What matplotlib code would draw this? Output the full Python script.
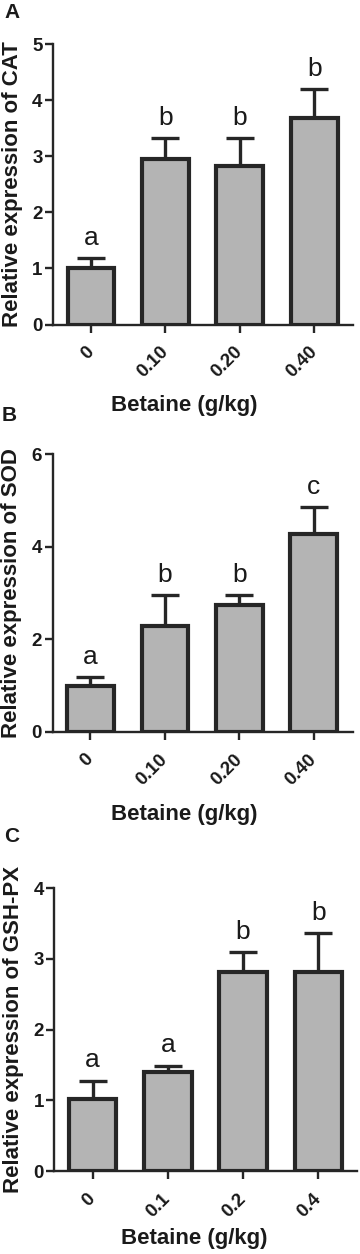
import numpy as np
import matplotlib
matplotlib.use("Agg")
import matplotlib.pyplot as plt

plt.rcParams['font.family'] = ['Liberation Sans', 'DejaVu Sans']

# ---- data ----
cats_ab = ["0", "0.10", "0.20", "0.40"]
cats_c = ["0", "0.1", "0.2", "0.4"]

cat_mean = [1.00, 2.95, 2.82, 3.68]
cat_err = [0.18, 0.38, 0.51, 0.52]
cat_letters = ["a", "b", "b", "b"]

sod_mean = [0.99, 2.28, 2.74, 4.28]
sod_err = [0.19, 0.67, 0.21, 0.57]
sod_letters = ["a", "b", "b", "c"]

gsh_mean = [1.02, 1.40, 2.82, 2.82]
gsh_err = [0.26, 0.09, 0.28, 0.55]
gsh_letters = ["a", "a", "b", "b"]

xlabel = "Betaine (g/kg)"

W, H = 360, 1254
fig = plt.figure(figsize=(W / 100, H / 100), dpi=100)

EDGE = "#262626"
FILL = "#b4b4b4"


def px_axes(left, right, top, bottom):
    return [left / W, 1 - bottom / H, (right - left) / W, (bottom - top) / H]


panels = [
    dict(rect=px_axes(53, 353, 44.3, 324.5), cats=cats_ab, mean=cat_mean, err=cat_err,
         letters=cat_letters, ylim=5, yticks=[0, 1, 2, 3, 4, 5],
         ylabel="Relative expression of CAT", xl=(0.437, -0.252), tag="A", tagpos=(12, 12)),
    dict(rect=px_axes(52.5, 352.7, 454.3, 731.7), cats=cats_ab, mean=sod_mean, err=sod_err,
         letters=sod_letters, ylim=6, yticks=[0, 2, 4, 6],
         ylabel="Relative expression of SOD", xl=(0.438, -0.262), tag="B", tagpos=(9.5, 415)),
    dict(rect=px_axes(54.3, 357.3, 888.3, 1171), cats=cats_c, mean=gsh_mean, err=gsh_err,
         letters=gsh_letters, ylim=4, yticks=[0, 1, 2, 3, 4],
         ylabel="Relative expression of GSH-PX", xl=(0.461, -0.203), tag="C", tagpos=(11.5, 836)),
]

for p in panels:
    ax = fig.add_axes(p["rect"])
    x = np.arange(len(p["cats"]))
    mean = np.array(p["mean"])
    err = np.array(p["err"])
    eb = ax.errorbar(x, mean, yerr=[np.zeros_like(err), err], fmt='none', ecolor=EDGE,
                     elinewidth=2.4, capsize=10, capthick=2.4, zorder=2)
    for cl in eb[1]:
        if np.allclose(cl.get_ydata(), mean):
            cl.set_visible(False)
    ax.bar(x, mean, width=0.63, color=FILL, edgecolor=EDGE, linewidth=3.0, zorder=3)
    for xi, m, e, lt in zip(x, mean, err, p["letters"]):
        ax.annotate(lt, (xi, m + e), xytext=(0, 9.5), textcoords='offset points',
                    ha='center', va='baseline', fontsize=19, color='#1a1a1a')
    ax.set_xlim(-0.51, 3.52)
    ax.set_ylim(0, p["ylim"])
    ax.set_yticks(p["yticks"])
    ax.set_xticks(x)
    ax.set_xticklabels(p["cats"], rotation=45, ha='right', va='center',
                       rotation_mode='anchor', fontsize=13.5, fontweight='bold')
    for lab in ax.get_yticklabels():
        lab.set_fontsize(13.5)
        lab.set_fontweight('bold')
    for s in ["top", "right"]:
        ax.spines[s].set_visible(False)
    for s in ["left", "bottom"]:
        ax.spines[s].set_linewidth(1.7)
        ax.spines[s].set_color(EDGE)
    ax.tick_params(axis='both', length=6, width=1.7, color=EDGE, labelcolor='#1a1a1a')
    ax.tick_params(axis='y', pad=1.5)
    ax.tick_params(axis='x', pad=12)
    ax.set_ylabel(p["ylabel"], fontsize=16, fontweight='bold', color='#1a1a1a')
    ax.yaxis.set_label_coords(-0.10, 0.5)
    ax.set_xlabel(xlabel, fontsize=16, fontweight='bold', color='#1a1a1a', va='top')
    ax.xaxis.set_label_coords(*p["xl"])
    fig.text(p["tagpos"][0] / W, 1 - p["tagpos"][1] / H, p["tag"], fontsize=15,
             fontweight='bold', ha='center', va='center', color='#1a1a1a')

fig.savefig("out.png", dpi=100)
